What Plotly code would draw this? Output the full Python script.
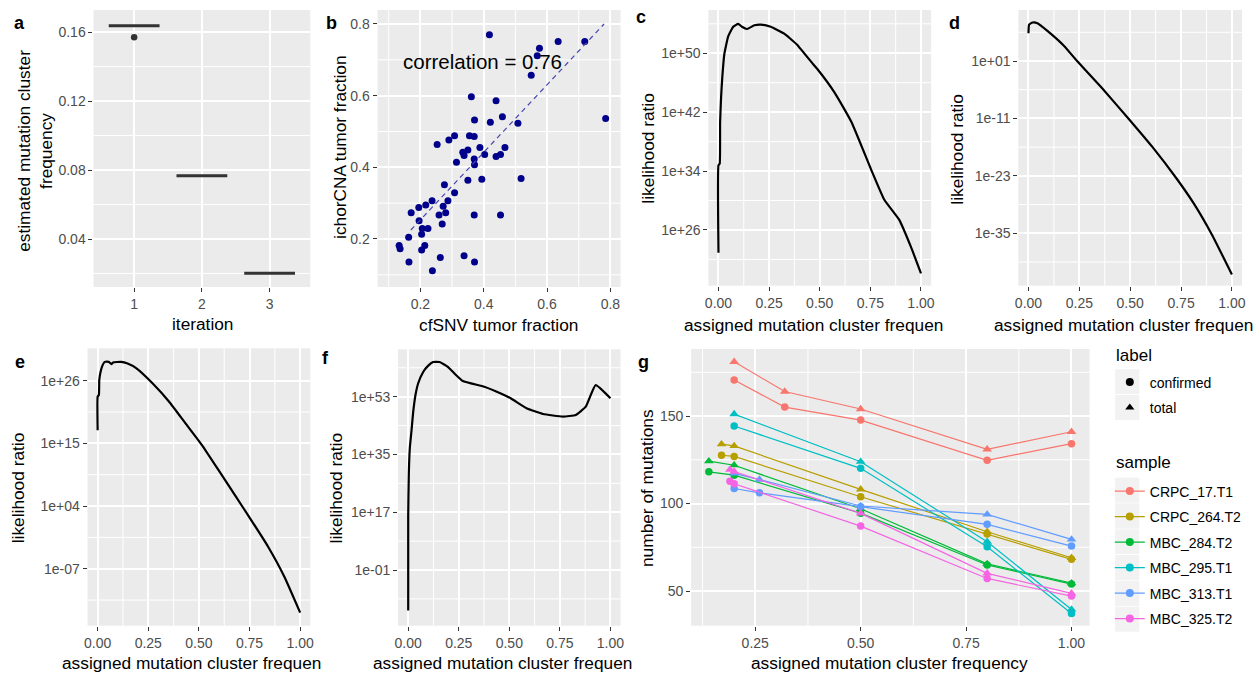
import numpy as np
import plotly.graph_objects as go

FONT = "Liberation Sans, Arial, sans-serif"
W, H = 1257, 673

# ---------------- data ----------------
# panel a: estimated mutation cluster frequency per iteration
iteration_ticks = [1, 2, 3]
iter1_freq = [0.1637, 0.1637, 0.1637, 0.1637, 0.1637, 0.157]
iter2_freq = [0.0767, 0.0767, 0.0767, 0.0767, 0.0767]
iter3_freq = [0.0201, 0.0201, 0.0201, 0.0201, 0.0201]

# panel b: cfSNV vs ichorCNA tumor fraction
cfsnv_tf = [0.418, 0.576, 0.635, 0.719, 0.569, 0.550, 0.785, 0.361, 0.439, 0.371,
            0.421, 0.459, 0.508, 0.253, 0.308, 0.290, 0.355, 0.370, 0.334, 0.338,
            0.350, 0.388, 0.467, 0.370, 0.371, 0.403, 0.439, 0.453, 0.314, 0.350,
            0.394, 0.518, 0.276, 0.308, 0.237, 0.287, 0.217, 0.195, 0.171, 0.272,
            0.280, 0.259, 0.370, 0.453, 0.196, 0.269, 0.206, 0.224, 0.204, 0.163,
            0.214, 0.204, 0.133, 0.136, 0.164, 0.263, 0.338, 0.371, 0.238]
ichor_tf = [0.770, 0.732, 0.751, 0.751, 0.711, 0.657, 0.536, 0.597, 0.586, 0.532,
            0.526, 0.541, 0.523, 0.464, 0.488, 0.476, 0.488, 0.486, 0.442, 0.433,
            0.448, 0.455, 0.455, 0.423, 0.407, 0.436, 0.430, 0.436, 0.414, 0.364,
            0.367, 0.369, 0.351, 0.329, 0.307, 0.307, 0.295, 0.288, 0.273, 0.291,
            0.273, 0.267, 0.267, 0.267, 0.251, 0.242, 0.229, 0.229, 0.213, 0.205,
            0.182, 0.169, 0.182, 0.173, 0.136, 0.148, 0.153, 0.136, 0.111]
fit_x = [0.17, 0.78]
fit_y = [0.225, 0.80]
corr_label = "correlation = 0.76"

# panels c-f: likelihood ratio curves (log10 of likelihood ratio)
c_freq = [0, 0, 0.006, 0.008, 0.013, 0.019, 0.029, 0.048, 0.073, 0.097, 0.116, 0.14,
          0.177, 0.21, 0.258, 0.323, 0.387, 0.468, 0.493, 0.575, 0.656, 0.754, 0.819,
          0.892, 0.949, 1.0]
c_log10_lr = [22.9, 34.8, 35.0, 40.6, 44.1, 46.8, 49.9, 52.3, 53.6, 54.0, 53.6, 53.3,
              53.8, 53.9, 53.6, 52.7, 51.2, 48.5, 47.7, 44.6, 40.7, 34.2, 30.1,
              27.4, 23.8, 20.1]

d_freq = [0, 0.003, 0.02, 0.044, 0.093, 0.174, 0.239, 0.36, 0.491, 0.61, 0.727,
          0.81, 0.902, 1.0]
d_log10_lr = [6.8, 8.6, 9.05, 8.9, 7.3, 4.2, 1.0, -4.6, -11.0, -17.0, -23.5,
              -28.6, -35.3, -43.6]

e_freq = [0, 0, 0.006, 0.008, 0.013, 0.023, 0.035, 0.055, 0.068, 0.076, 0.116, 0.148,
          0.19, 0.272, 0.353, 0.434, 0.515, 0.597, 0.678, 0.759, 0.841, 0.922, 1.0]
e_log10_lr = [17.3, 23.2, 23.5, 26.1, 27.3, 28.6, 29.3, 29.3, 28.9, 29.2, 29.3, 29.0,
              28.2, 25.5, 22.3, 18.5, 14.7, 10.3, 5.9, 1.5, -3.1, -8.4, -14.7]

f_freq = [0, 0, 0.003, 0.008, 0.016, 0.025, 0.036, 0.049, 0.074, 0.098, 0.123, 0.155,
          0.196, 0.229, 0.27, 0.376, 0.458, 0.507, 0.585, 0.667, 0.764, 0.829, 0.878,
          0.927, 1.0]
f_log10_lr = [-13.6, 15.8, 28.7, 37.0, 42.2, 48.4, 53.5, 57.1, 60.7, 62.6, 63.8, 63.8,
              62.3, 60.2, 57.9, 56.1, 54.0, 52.5, 49.4, 47.6, 46.8, 47.3, 49.9,
              56.6, 52.5]

# panel g: number of mutations per assigned cluster frequency
samples = ["CRPC_17.T1", "CRPC_264.T2", "MBC_284.T2", "MBC_295.T1", "MBC_313.T1", "MBC_325.T2"]
sample_colors = ["#F8766D", "#B79F00", "#00BA38", "#00BFC4", "#619CFF", "#F564E3"]

crpc17_x = [0.2, 0.32, 0.5, 0.8, 1.0]
crpc17_total = [181, 164, 154, 131, 141]
crpc17_confirmed = [170.6, 155.1, 147.7, 124.7, 134.2]

crpc264_x = [0.17, 0.2, 0.5, 0.8, 1.0]
crpc264_total = [133.9, 132.9, 108.1, 83.9, 69.0]
crpc264_confirmed = [127.6, 126.9, 103.9, 82.6, 68.1]

mbc284_x = [0.14, 0.2, 0.5, 0.8, 1.0]
mbc284_total = [124.2, 121.9, 97.0, 65.5, 54.5]
mbc284_confirmed = [118.1, 116.2, 94.5, 64.9, 54.0]

mbc295_x = [0.2, 0.5, 0.8, 1.0]
mbc295_total = [151.1, 123.9, 78.2, 39.5]
mbc295_confirmed = [144.3, 120.1, 75.3, 37.2]

mbc313_x = [0.2, 0.26, 0.5, 0.8, 1.0]
mbc313_total = [117.2, 113.7, 98.6, 93.8, 79.5]
mbc313_confirmed = [108.6, 106.1, 98.2, 88.1, 75.7]

mbc325_x = [0.19, 0.2, 0.5, 0.8, 1.0]
mbc325_total = [119.4, 118.3, 94.4, 60.1, 48.7]
mbc325_confirmed = [112.7, 111.3, 87.1, 57.2, 47.1]

g_x = [crpc17_x, crpc264_x, mbc284_x, mbc295_x, mbc313_x, mbc325_x]
g_total = [crpc17_total, crpc264_total, mbc284_total, mbc295_total, mbc313_total, mbc325_total]
g_confirmed = [crpc17_confirmed, crpc264_confirmed, mbc284_confirmed, mbc295_confirmed,
               mbc313_confirmed, mbc325_confirmed]
label_names = ["confirmed", "total"]
label_symbols = ["circle", "triangle-up"]

# ---------------- layout helpers ----------------
def px_x(a, b):
    return [a / W, b / W]

def px_y(top, bottom):
    return [1 - bottom / H, 1 - top / H]

def axis(domain, rng, anchor, tickvals, ticktext=None, typ="linear"):
    d = dict(domain=domain, range=rng, anchor=anchor, type=typ,
             showgrid=True, gridcolor="#FFFFFF", gridwidth=1.9,
             zeroline=False, showline=False,
             ticks="outside", ticklen=4, tickwidth=1.1, tickcolor="#333333",
             tickfont=dict(size=14, color="#4D4D4D", family=FONT),
             tickmode="array", tickvals=tickvals)
    if ticktext is not None:
        d["ticktext"] = ticktext
    return d

def sci(e):
    return "1e%s%02d" % ("+" if e >= 0 else "-", abs(e))

fig = go.Figure()

# ---------------- panel a ----------------
for it, vals in zip(iteration_ticks, [iter1_freq, iter2_freq, iter3_freq]):
    fig.add_trace(go.Box(x=[it] * len(vals), y=vals, width=0.75, boxpoints="outliers",
                         fillcolor="white", line=dict(color="#333333", width=3),
                         marker=dict(color="#333333", size=6.5), whiskerwidth=0,
                         showlegend=False, xaxis="x", yaxis="y"))

# ---------------- panel b ----------------
fig.add_trace(go.Scatter(x=cfsnv_tf, y=ichor_tf, mode="markers",
                         marker=dict(color="#00008B", size=7), showlegend=False,
                         xaxis="x2", yaxis="y2"))
fig.add_trace(go.Scatter(x=fit_x, y=fit_y, mode="lines",
                         line=dict(color="#4646B0", width=1.2, dash="5px,4px"), showlegend=False,
                         xaxis="x2", yaxis="y2"))

# ---------------- panels c-f ----------------
for i, (xs, ls) in enumerate([(c_freq, c_log10_lr), (d_freq, d_log10_lr),
                              (e_freq, e_log10_lr), (f_freq, f_log10_lr)]):
    n = i + 3
    fig.add_trace(go.Scatter(x=xs, y=10 ** np.array(ls, dtype=float), mode="lines",
                             line=dict(color="black", width=2.2, shape="spline", smoothing=0.4),
                             showlegend=False, xaxis="x%d" % n, yaxis="y%d" % n))

# ---------------- panel g ----------------
for s, col, xs, tot, conf in zip(samples, sample_colors, g_x, g_total, g_confirmed):
    fig.add_trace(go.Scatter(x=xs, y=conf, mode="lines+markers",
                             line=dict(color=col, width=1.2),
                             marker=dict(color=col, size=7.5, symbol="circle"),
                             showlegend=False, xaxis="x7", yaxis="y7"))
    fig.add_trace(go.Scatter(x=xs, y=tot, mode="lines+markers",
                             line=dict(color=col, width=1.2),
                             marker=dict(color=col, size=8.5, symbol="triangle-up"),
                             showlegend=False, xaxis="x7", yaxis="y7"))

# legend entries
for nm, sym in zip(label_names, label_symbols):
    fig.add_trace(go.Scatter(x=[None], y=[None], mode="markers", name=nm,
                             marker=dict(color="black", size=8, symbol=sym),
                             legend="legend", legendgroup=nm, xaxis="x7", yaxis="y7"))
for s, col in zip(samples, sample_colors):
    fig.add_trace(go.Scatter(x=[None], y=[None], mode="lines+markers", name=s,
                             line=dict(color=col, width=1.2),
                             marker=dict(color=col, size=8, symbol="circle"),
                             legend="legend2", legendgroup=s, xaxis="x7", yaxis="y7"))

# ---------------- axes ----------------
lin01 = [0, 0.25, 0.5, 0.75, 1.0]
lin01_txt = ["0.00", "0.25", "0.50", "0.75", "1.00"]
lin01_minor = [0.125, 0.375, 0.625, 0.875]

layout_axes = dict(
    xaxis=axis(px_x(91, 309), [0.4, 3.6], "y", iteration_ticks, ["1", "2", "3"]),
    yaxis=axis(px_y(10, 287), [0.0122, 0.1728], "x", [0.04, 0.08, 0.12, 0.16],
               ["0.04", "0.08", "0.12", "0.16"]),
    xaxis2=axis(px_x(376.7, 621), [0.065, 0.832], "y2", [0.2, 0.4, 0.6, 0.8],
                ["0.2", "0.4", "0.6", "0.8"]),
    yaxis2=axis(px_y(10, 287), [0.066, 0.839], "x2", [0.2, 0.4, 0.6, 0.8],
                ["0.2", "0.4", "0.6", "0.8"]),
    xaxis3=axis(px_x(709.3, 933.3), [-0.05, 1.05], "y3", lin01, lin01_txt),
    yaxis3=axis(px_y(10, 285.7), [18.43, 55.88], "x3",
                [10.0 ** e for e in [26, 34, 42, 50]], [sci(e) for e in [26, 34, 42, 50]], "log"),
    xaxis4=axis(px_x(1021, 1246), [-0.05, 1.05], "y4", lin01, lin01_txt),
    yaxis4=axis(px_y(10, 285.7), [-45.95, 11.66], "x4",
                [10.0 ** e for e in [-35, -23, -11, 1]], [sci(e) for e in [-35, -23, -11, 1]], "log"),
    xaxis5=axis(px_x(85, 309), [-0.05, 1.05], "y5", lin01, lin01_txt),
    yaxis5=axis(px_y(348.3, 625.7), [-17.0, 31.68], "x5",
                [10.0 ** e for e in [-7, 4, 15, 26]], [sci(e) for e in [-7, 4, 15, 26]], "log"),
    xaxis6=axis(px_x(397.3, 621), [-0.05, 1.05], "y6", lin01, lin01_txt),
    yaxis6=axis(px_y(349.3, 625.7), [-18.35, 67.76], "x6",
                [10.0 ** e for e in [-1, 17, 35, 53]], [sci(e) for e in [-1, 17, 35, 53]], "log"),
    xaxis7=axis(px_x(692, 1092.7), [0.098, 1.043], "y7", [0.25, 0.5, 0.75, 1.0],
                ["0.25", "0.50", "0.75", "1.00"]),
    yaxis7=axis(px_y(349, 625.7), [30.2, 188.3], "x7", [50, 100, 150],
                ["50", "100", "150"]),
)

# minor grid lines (drawn below the major grid)
minor_grid = {
    1: ([], [0.02, 0.06, 0.10, 0.14]),
    2: ([0.1, 0.3, 0.5, 0.7], [0.1, 0.3, 0.5, 0.7]),
    3: (lin01_minor, [10.0 ** e for e in [22, 30, 38, 46, 54]]),
    4: (lin01_minor, [10.0 ** e for e in [-41, -29, -17, -5, 7]]),
    5: (lin01_minor, [10.0 ** e for e in [-12.5, -1.5, 9.5, 20.5]]),
    6: (lin01_minor, [10.0 ** e for e in [-10, 8, 26, 44, 62]]),
    7: (lin01_minor, [75, 125, 175]),
}
shapes = []
for n, (mx, my) in minor_grid.items():
    sx = "x" if n == 1 else "x%d" % n
    sy = "y" if n == 1 else "y%d" % n
    for v in mx:
        shapes.append(dict(type="line", xref=sx, yref=sy + " domain", x0=v, x1=v, y0=0, y1=1,
                           line=dict(color="#FFFFFF", width=1.0), layer="below"))
    for v in my:
        shapes.append(dict(type="line", xref=sx + " domain", yref=sy, x0=0, x1=1, y0=v, y1=v,
                           line=dict(color="#FFFFFF", width=1.0), layer="below"))

# legend key backgrounds
for top, bot in [(369.3, 394), (395, 420), (477.7, 502.7), (503.3, 528.7), (529.3, 554),
                 (555, 580), (580.7, 606), (606.7, 631.7)]:
    shapes.append(dict(type="rect", xref="paper", yref="paper",
                       x0=1118.3 / W, x1=1142.7 / W, y0=1 - bot / H, y1=1 - top / H,
                       fillcolor="#F2F2F2", line=dict(width=0), layer="above"))

# ---------------- annotations ----------------
ann = []
def txt(x, y, s, size=17.3, angle=0, xanchor="center", color="black"):
    ann.append(dict(x=x / W, y=1 - y / H, xref="paper", yref="paper", text=s,
                    showarrow=False, textangle=angle, xanchor=xanchor, yanchor="middle",
                    font=dict(size=size, family=FONT, color=color)))

# panel letters
for lab, x, y in [("a", 17, 23), ("b", 330.5, 23), ("c", 641.5, 17), ("d", 956.5, 23),
                  ("e", 16.7, 361.7), ("f", 324, 358.3), ("g", 644, 361.7)]:
    txt(x, y, "<b>%s</b>" % lab, size=18)

# x titles
txt(201, 323.5, "iteration")
txt(497.8, 325, "cfSNV tumor fraction")
txt(683, 325, "assigned mutation cluster frequen", xanchor="left")
txt(995, 325, "assigned mutation cluster frequen", xanchor="left")
txt(57, 663.3, "assigned mutation cluster frequen", xanchor="left")
txt(370, 663.3, "assigned mutation cluster frequen", xanchor="left")
txt(891.5, 663.3, "assigned mutation cluster frequency")

# y titles
txt(32, 151, "estimated mutation cluster<br>frequency", angle=-90)
txt(338.3, 147.5, "ichorCNA tumor fraction", angle=-90)
txt(648.3, 149, "likelihood ratio", angle=-90)
txt(959, 150, "likelihood ratio", angle=-90)
txt(15, 488.3, "likelihood ratio", angle=-90)
txt(335, 488.3, "likelihood ratio", angle=-90)
txt(648.3, 488.3, "number of mutations", angle=-90)

# legend titles
txt(1117.7, 355, "label", size=17, xanchor="left")
txt(1117.7, 462.7, "sample", size=17, xanchor="left")

# correlation label (data coordinates of panel b)
ann.append(dict(x=0.396, y=0.695, xref="x2", yref="y2", text=corr_label, showarrow=False,
                font=dict(size=20.5, family=FONT, color="black")))

fig.update_layout(
    width=W, height=H, autosize=False,
    margin=dict(l=0, r=0, t=0, b=0),
    paper_bgcolor="white", plot_bgcolor="#EBEBEB",
    font=dict(family=FONT, color="black"),
    annotations=ann, shapes=shapes,
    legend=dict(x=1113 / W, y=1 - 366.5 / H, xanchor="left", yanchor="top",
                bgcolor="rgba(0,0,0,0)",
                font=dict(size=14, color="black"), tracegroupgap=4.3, itemwidth=30),
    legend2=dict(x=1113 / W, y=1 - 475.5 / H, xanchor="left", yanchor="top",
                 bgcolor="rgba(0,0,0,0)",
                 font=dict(size=14, color="black"), tracegroupgap=4.3, itemwidth=30),
    **layout_axes,
)

fig.write_html("out.html")
